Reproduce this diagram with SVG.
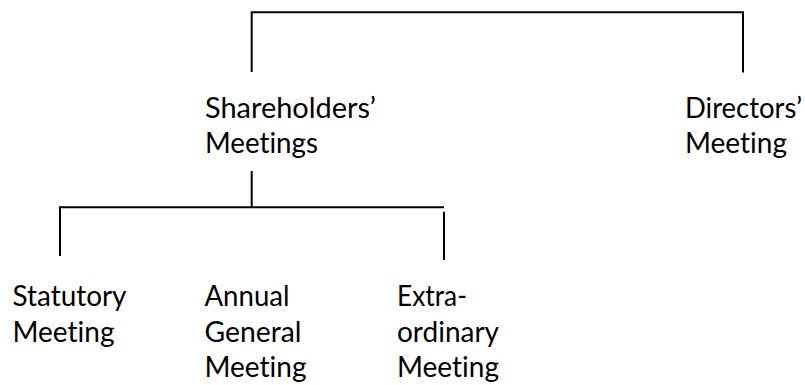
<svg xmlns="http://www.w3.org/2000/svg" width="805" height="385" viewBox="0 0 805 385">
<style>
.t{font-family:Lato,"Open Sans","Liberation Sans",sans-serif;font-size:28px;fill:#000;font-variant-ligatures:none;font-feature-settings:"liga" 0}
.c{fill:none;stroke:#000;stroke-width:2}
</style>
<rect width="805" height="385" fill="#fff"/>
<g id="connectors">
<path class="c" d="M251.7 72 V12.3 H743 V72.5"/>
<path class="c" d="M251.7 171 V207.3"/>
<path class="c" d="M60 256 V207.3 H444"/>
<path class="c" d="M444 211.7 V260"/>
</g>
<g id="shareholders">
<text class="t" x="205" y="118.3"><tspan textLength="171" lengthAdjust="spacingAndGlyphs">Shareholders’</tspan></text>
<text class="t" x="205" y="153.3"><tspan textLength="113" lengthAdjust="spacingAndGlyphs">Meetings</tspan></text>
</g>
<g id="directors">
<text class="t" x="685" y="118.3"><tspan textLength="117" lengthAdjust="spacingAndGlyphs">Directors’</tspan></text>
<text class="t" x="685" y="153.3"><tspan textLength="102" lengthAdjust="spacingAndGlyphs">Meeting</tspan></text>
</g>
<g id="statutory">
<text class="t" x="12.5" y="306"><tspan textLength="114" lengthAdjust="spacingAndGlyphs">Statutory</tspan></text>
<text class="t" x="12.5" y="341.5"><tspan textLength="102" lengthAdjust="spacingAndGlyphs">Meeting</tspan></text>
</g>
<g id="agm">
<text class="t" x="204.5" y="306"><tspan textLength="85" lengthAdjust="spacingAndGlyphs">Annual</tspan></text>
<text class="t" x="204.5" y="341.5"><tspan textLength="97" lengthAdjust="spacingAndGlyphs">General</tspan></text>
<text class="t" x="204.5" y="377"><tspan textLength="102" lengthAdjust="spacingAndGlyphs">Meeting</tspan></text>
</g>
<g id="egm">
<text class="t" x="397" y="306"><tspan textLength="70" lengthAdjust="spacingAndGlyphs">Extra-</tspan></text>
<text class="t" x="397" y="341.5"><tspan textLength="102" lengthAdjust="spacingAndGlyphs">ordinary</tspan></text>
<text class="t" x="397" y="377"><tspan textLength="102" lengthAdjust="spacingAndGlyphs">Meeting</tspan></text>
</g>
</svg>
